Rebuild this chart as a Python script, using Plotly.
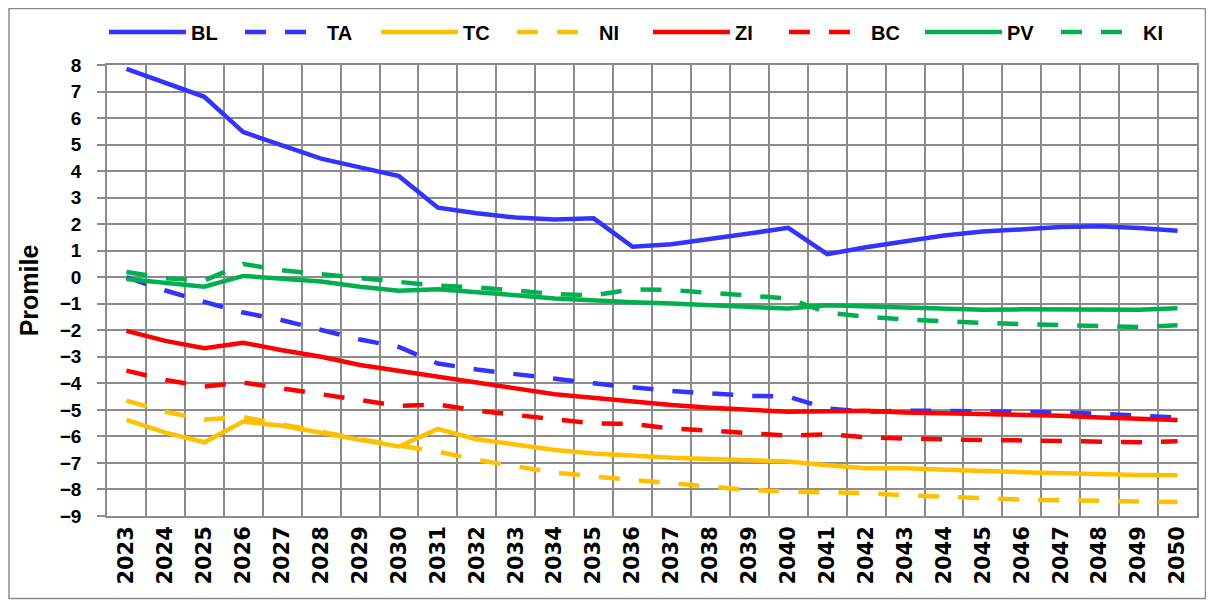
import plotly.graph_objects as go

years = ["2023", "2024", "2025", "2026", "2027", "2028", "2029", "2030", "2031", "2032",
         "2033", "2034", "2035", "2036", "2037", "2038", "2039", "2040", "2041", "2042",
         "2043", "2044", "2045", "2046", "2047", "2048", "2049", "2050"]

BL = [7.85, 7.31, 6.8, 5.47, 4.95, 4.47, 4.14, 3.81, 2.62, 2.41, 2.25, 2.18, 2.22, 1.15,
      1.24, 1.43, 1.65, 1.86, 0.87, 1.13, 1.37, 1.57, 1.72, 1.82, 1.89, 1.92, 1.86, 1.75]
TA = [0.0, -0.5, -0.93, -1.33, -1.62, -2.0, -2.35, -2.63, -3.25, -3.48, -3.66, -3.81, -4.0,
      -4.15, -4.29, -4.38, -4.47, -4.5, -4.95, -5.07, -5.03, -5.04, -5.05, -5.07, -5.1,
      -5.15, -5.2, -5.29]
TC = [-5.38, -5.86, -6.22, -5.44, -5.6, -5.88, -6.13, -6.38, -5.72, -6.11, -6.32, -6.51,
      -6.64, -6.74, -6.8, -6.85, -6.91, -6.95, -7.09, -7.2, -7.2, -7.27, -7.3, -7.35,
      -7.39, -7.43, -7.45, -7.46]
NI = [-4.65, -5.07, -5.36, -5.27, -5.55, -5.84, -6.1, -6.35, -6.57, -6.89, -7.11, -7.36,
      -7.51, -7.64, -7.79, -7.89, -8.02, -8.08, -8.09, -8.14, -8.22, -8.28, -8.32, -8.38,
      -8.41, -8.44, -8.45, -8.47]
ZI = [-2.02, -2.4, -2.68, -2.47, -2.75, -3.0, -3.31, -3.52, -3.77, -3.94, -4.19, -4.41,
      -4.56, -4.69, -4.82, -4.92, -5.0, -5.07, -5.05, -5.03, -5.1, -5.13, -5.15, -5.17,
      -5.22, -5.29, -5.34, -5.38]
BC = [-3.52, -3.87, -4.12, -3.97, -4.19, -4.41, -4.63, -4.85, -4.8, -5.03, -5.19, -5.36,
      -5.51, -5.53, -5.7, -5.78, -5.88, -5.97, -5.92, -6.03, -6.08, -6.13, -6.14, -6.15,
      -6.18, -6.23, -6.22, -6.18]
PV = [-0.07, -0.21, -0.36, 0.05, -0.06, -0.16, -0.36, -0.51, -0.45, -0.55, -0.68, -0.8,
      -0.89, -0.94, -0.99, -1.06, -1.11, -1.18, -1.06, -1.11, -1.14, -1.17, -1.23, -1.21,
      -1.22, -1.23, -1.23, -1.17]
KI = [0.2, -0.04, -0.12, 0.5, 0.26, 0.11, -0.06, -0.2, -0.32, -0.38, -0.5, -0.63, -0.68,
      -0.46, -0.48, -0.58, -0.68, -0.8, -1.33, -1.49, -1.59, -1.67, -1.72, -1.77, -1.81,
      -1.86, -1.88, -1.81]

series = [
    ("BL", BL, "#3333FF", "solid"),
    ("TA", TA, "#3333FF", "dash"),
    ("TC", TC, "#FFC000", "solid"),
    ("NI", NI, "#FFC000", "dash"),
    ("ZI", ZI, "#FF0000", "solid"),
    ("BC", BC, "#FF0000", "dash"),
    ("PV", PV, "#00B050", "solid"),
    ("KI", KI, "#00B050", "dash"),
]

fig = go.Figure()
for name, vals, color, style in series:
    fig.add_trace(go.Scatter(
        x=years, y=vals, name=name, mode="lines",
        line=dict(color=color, width=4.5,
                  dash="21px,19px" if style == "dash" else "solid"),
    ))

grid = "#8c8c8c"
fig.update_layout(
    width=1206, height=598,
    margin=dict(l=99, r=17, t=57, b=90, autoexpand=False),
    paper_bgcolor="white", plot_bgcolor="white",
    font=dict(family="Liberation Sans, Arial, sans-serif", color="black"),
    legend=dict(
        orientation="h", x=-0.0028, xanchor="left", y=1.0732, yanchor="middle",
        font=dict(size=20, weight=700, family="Liberation Sans, Arial, sans-serif"),
        itemwidth=77, entrywidth=44, traceorder="normal",
        bgcolor="rgba(0,0,0,0)",
    ),
    xaxis=dict(
        type="category", tickson="boundaries", range=[-0.5, 27.5],
        showgrid=True, gridcolor=grid, gridwidth=1.5, ticks="",
        showline=True, linecolor=grid, linewidth=1.5, mirror=True,
        tickangle=-90, automargin=False,
        tickfont=dict(size=21, weight=700, family="DejaVu Sans, sans-serif"),
    ),
    yaxis=dict(
        range=[-9, 8], dtick=1, tick0=0, showgrid=True,
        gridcolor=grid, gridwidth=1.5, zeroline=False,
        showline=True, linecolor=grid, linewidth=1.5, mirror=True,
        ticks="outside", ticklen=8, tickcolor=grid, tickwidth=1.5,
        ticklabelstandoff=12, automargin=False,
        tickfont=dict(size=19, weight=700),
        title=dict(text="Promile", font=dict(size=25, weight=700), standoff=14),
    ),
    shapes=[dict(
        type="rect", xref="paper", yref="paper",
        x0=-0.0899, x1=1.0078, y0=-0.183, y1=1.1253,
        line=dict(color="#8c8c8c", width=1.5), fillcolor="rgba(0,0,0,0)",
        layer="below",
    )],
)

fig.write_html("out.html")
